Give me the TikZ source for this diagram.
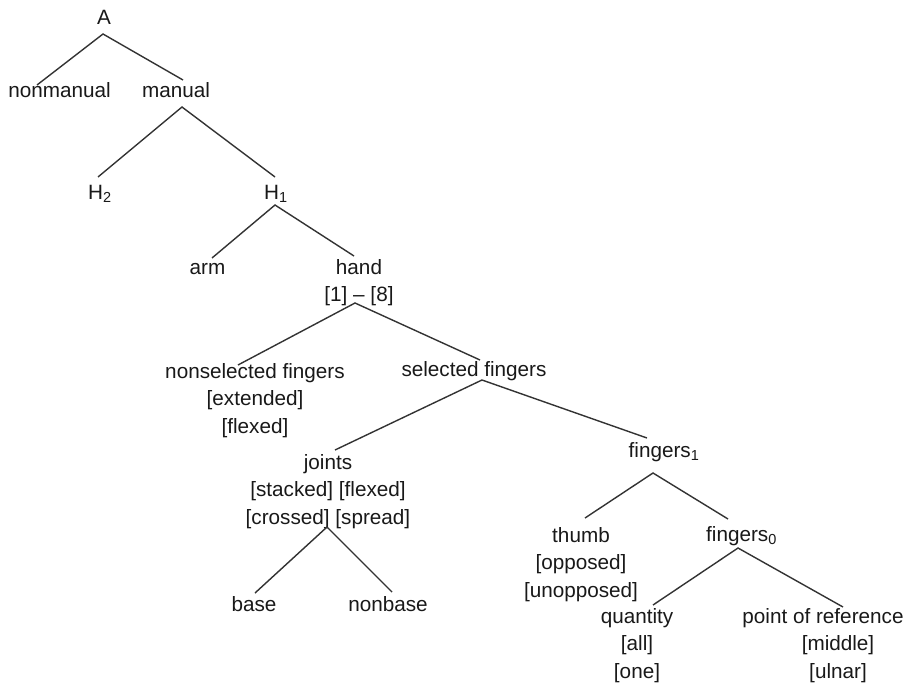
\documentclass[tikz,border=0pt]{standalone}
\usepackage{fontspec}
\setmainfont{Liberation Sans}
\begin{document}
\begin{tikzpicture}[x=1pt,y=-1pt,
  lbl/.style={anchor=base,inner sep=0pt,align=center,font=\fontsize{20.7}{27.5}\selectfont,text=black!90},
  edge/.style={draw=black!80,line width=1.4pt}]
\useasboundingbox (0,0) rectangle (907,685);
\fill[white] (0,0) rectangle (907,685);
\node[lbl] (A) at (104,25) {A};
\node[lbl] (nonmanual) at (59.5,97) {nonmanual};
\node[lbl] (manual) at (176,97) {manual};
\node[lbl] (H2) at (100,199) {H\textsubscript{2}};
\node[lbl] (H1) at (276,199) {H\textsubscript{1}};
\node[lbl] (arm) at (207.5,274) {arm};
\node[lbl] (hand) at (359,301.5) {hand\\{}[1] -- [8]};
\node[lbl] (nonsel) at (255,433) {nonselected fingers\\{}[extended]\\{}[flexed]};
\node[lbl] (sel) at (474,376) {selected fingers};
\node[lbl] (joints) at (328,524) {joints\\{}[stacked] [flexed]\\{}[crossed] [spread]};
\node[lbl] (fingers1) at (664,457) {fingers\textsubscript{1}};
\node[lbl] (base) at (254,611) {base};
\node[lbl] (nonbase) at (388,611) {nonbase};
\node[lbl] (thumb) at (581,597) {thumb\\{}[opposed]\\{}[unopposed]};
\node[lbl] (fingers0) at (741.5,541) {fingers\textsubscript{0}};
\node[lbl] (quantity) at (637,678) {quantity\\{}[all]\\{}[one]};
\node[lbl] (por) at (823,678) {point of reference\\\hspace*{30pt}[middle]\\\hspace*{30pt}[ulnar]};
\draw[edge] ([shift={(-22.5,-12)}]nonmanual.base) -- ([shift={(-1,9)}]A.base) -- ([shift={(7,-17)}]manual.base);
\draw[edge] ([shift={(-2,-22)}]H2.base) -- ([shift={(6,10)}]manual.base) -- ([shift={(-1,-22)}]H1.base);
\draw[edge] ([shift={(4.5,-16)}]arm.base) -- ([shift={(-1,6)}]H1.base) -- ([shift={(-5,-45.5)}]hand.base);
\draw[edge] ([shift={(-17,-68)}]nonsel.base) -- ([shift={(-4,1.5)}]hand.base) -- ([shift={(6,-16)}]sel.base);
\draw[edge] ([shift={(7,-74)}]joints.base) -- ([shift={(8,4)}]sel.base) -- ([shift={(-17,-19)}]fingers1.base);
\draw[edge] ([shift={(1,-18)}]base.base) -- ([shift={(-1,3)}]joints.base) -- ([shift={(4,-19)}]nonbase.base);
\draw[edge] ([shift={(4,-79)}]thumb.base) -- ([shift={(-11,16)}]fingers1.base) -- ([shift={(-13.5,-22)}]fingers0.base);
\draw[edge] ([shift={(16,-73)}]quantity.base) -- ([shift={(-3.5,7)}]fingers0.base) -- ([shift={(20,-71)}]por.base);
\end{tikzpicture}
\end{document}
